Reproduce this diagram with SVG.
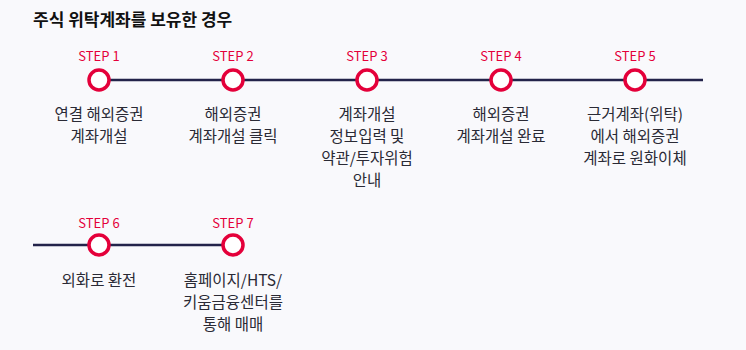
<svg xmlns="http://www.w3.org/2000/svg" width="746" height="350" viewBox="0 0 746 350">
<style>
.bg{fill:#f9f9fc}
.title{font-family:"Noto Sans CJK KR","Noto Sans",sans-serif;font-size:17px;font-weight:bold;fill:#111}
.step{font-family:"Noto Sans CJK KR","Noto Sans",sans-serif;font-size:13px;fill:#e4003a;text-anchor:middle}
.desc{font-family:"Noto Sans CJK KR","Noto Sans",sans-serif;font-size:15.5px;fill:#2a2a35;text-anchor:middle}
.dot{fill:#fff;stroke:#e4003a;stroke-width:3.5}
.line{stroke:#23234a;stroke-width:2.5;fill:none}
</style>
<rect class="bg" x="0" y="0" width="746" height="350"/>
<text class="title" x="33" y="26">주식 위탁계좌를 보유한 경우</text>
<g id="connectors">
<line class="line" x1="99" y1="80" x2="703" y2="80"/>
<line class="line" x1="33" y1="245" x2="233" y2="245"/>
</g>
<g id="step1">
<text class="step" x="99" y="61">STEP 1</text>
<circle class="dot" cx="99" cy="80" r="10"/>
<text class="desc" x="99" y="120">연결 해외증권</text>
<text class="desc" x="99" y="142">계좌개설</text>
</g>
<g id="step2">
<text class="step" x="233" y="61">STEP 2</text>
<circle class="dot" cx="233" cy="80" r="10"/>
<text class="desc" x="233" y="120">해외증권</text>
<text class="desc" x="233" y="142">계좌개설 클릭</text>
</g>
<g id="step3">
<text class="step" x="367" y="61">STEP 3</text>
<circle class="dot" cx="367" cy="80" r="10"/>
<text class="desc" x="367" y="120">계좌개설</text>
<text class="desc" x="367" y="142">정보입력 및</text>
<text class="desc" x="367" y="164">약관/투자위험</text>
<text class="desc" x="367" y="186">안내</text>
</g>
<g id="step4">
<text class="step" x="501" y="61">STEP 4</text>
<circle class="dot" cx="501" cy="80" r="10"/>
<text class="desc" x="501" y="120">해외증권</text>
<text class="desc" x="501" y="142">계좌개설 완료</text>
</g>
<g id="step5">
<text class="step" x="635" y="61">STEP 5</text>
<circle class="dot" cx="635" cy="80" r="10"/>
<text class="desc" x="635" y="120">근거계좌(위탁)</text>
<text class="desc" x="635" y="142">에서 해외증권</text>
<text class="desc" x="635" y="164">계좌로 원화이체</text>
</g>
<g id="step6">
<text class="step" x="99" y="228">STEP 6</text>
<circle class="dot" cx="99" cy="245" r="10"/>
<text class="desc" x="99" y="286">외화로 환전</text>
</g>
<g id="step7">
<text class="step" x="233" y="228">STEP 7</text>
<circle class="dot" cx="233" cy="245" r="10"/>
<text class="desc" x="233" y="286">홈페이지/HTS/</text>
<text class="desc" x="233" y="308">키움금융센터를</text>
<text class="desc" x="233" y="330">통해 매매</text>
</g>
</svg>
